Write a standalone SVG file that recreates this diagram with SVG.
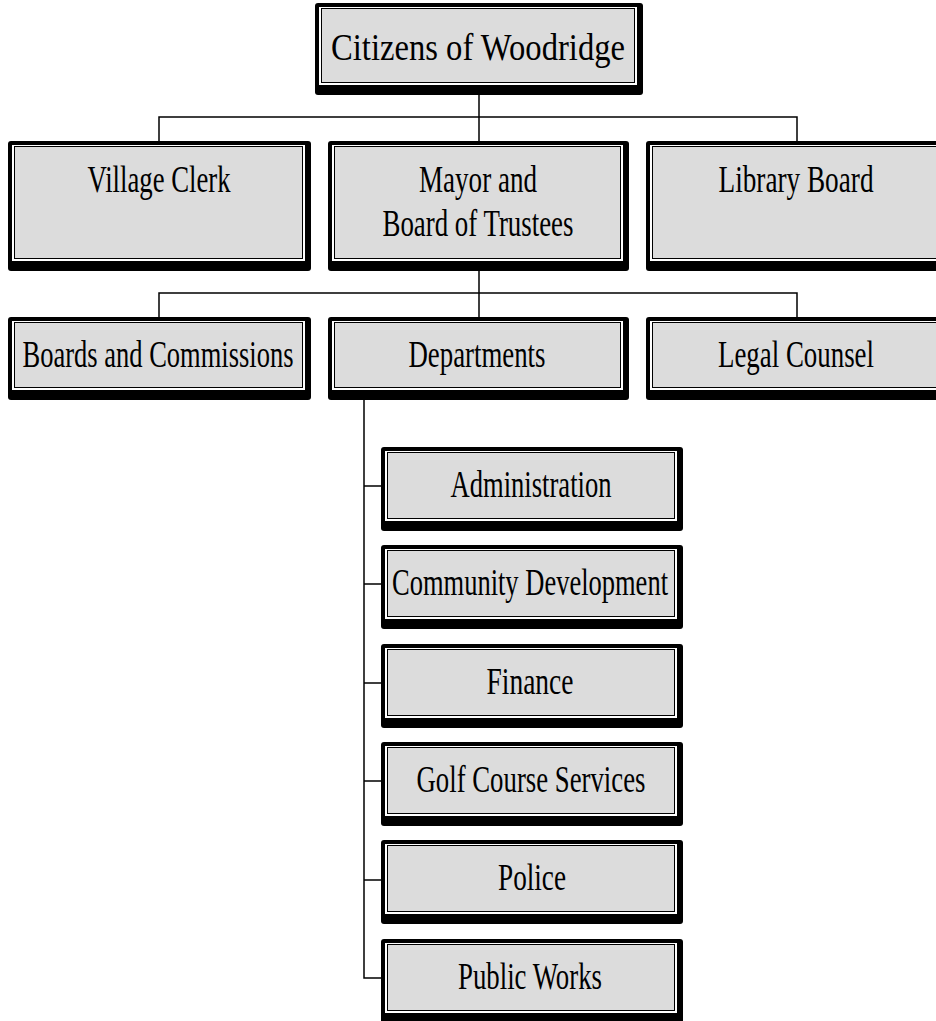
<svg xmlns="http://www.w3.org/2000/svg" width="936" height="1021" viewBox="0 0 936 1021">
<style>
.o{fill:#000}
.w{fill:#fff}
.g{fill:#dcdcdc;stroke:#000;stroke-width:1}
.t{font-family:"Liberation Serif","Times New Roman",serif;font-size:38px;fill:#000;text-anchor:middle}
.c{fill:none;stroke:#000;stroke-width:1.5}
</style>
<rect width="936" height="1021" fill="#fff"/>
<g id="connectors">
<path class="c" d="M479 95V117M159 141V117H797V141M479 117V141"/>
<path class="c" d="M479 271V293M159 317V293H797V317M479 293V317"/>
<path class="c" d="M364 400V978H381M364 486H381M364 584H381M364 683H381M364 781H381M364 880H381"/>
</g>
<g id="citizens">
<rect class="o" x="315" y="3" width="328" height="92" rx="3"/>
<rect class="w" x="319" y="7" width="318" height="78"/>
<rect class="g" x="321.5" y="8.5" width="313" height="74"/>
<text class="t" x="478" y="60" font-size="42" textLength="294" lengthAdjust="spacingAndGlyphs">Citizens of Woodridge</text>
</g>
<g id="village-clerk">
<rect class="o" x="8" y="141" width="303" height="130" rx="3"/>
<rect class="w" x="12" y="145" width="293" height="116"/>
<rect class="g" x="14.5" y="146.5" width="288" height="112"/>
<text class="t" x="159" y="192" textLength="143" lengthAdjust="spacingAndGlyphs">Village Clerk</text>
</g>
<g id="mayor">
<rect class="o" x="328" y="141" width="301" height="130" rx="3"/>
<rect class="w" x="332" y="145" width="291" height="116"/>
<rect class="g" x="334.5" y="146.5" width="286" height="112"/>
<text class="t" x="478" y="192" textLength="118" lengthAdjust="spacingAndGlyphs">Mayor and</text>
<text class="t" x="478" y="236" textLength="191" lengthAdjust="spacingAndGlyphs">Board of Trustees</text>
</g>
<g id="library-board">
<rect class="o" x="646" y="141" width="303" height="130" rx="3"/>
<rect class="w" x="650" y="145" width="293" height="116"/>
<rect class="g" x="652.5" y="146.5" width="288" height="112"/>
<text class="t" x="796" y="192" textLength="155" lengthAdjust="spacingAndGlyphs">Library Board</text>
</g>
<g id="boards-commissions">
<rect class="o" x="8" y="317" width="303" height="83" rx="3"/>
<rect class="w" x="12" y="321" width="293" height="69"/>
<rect class="g" x="14.5" y="322.5" width="288" height="65"/>
<text class="t" x="158" y="367" textLength="271" lengthAdjust="spacingAndGlyphs">Boards and Commissions</text>
</g>
<g id="departments">
<rect class="o" x="328" y="317" width="301" height="83" rx="3"/>
<rect class="w" x="332" y="321" width="291" height="69"/>
<rect class="g" x="334.5" y="322.5" width="286" height="65"/>
<text class="t" x="477" y="367" textLength="137" lengthAdjust="spacingAndGlyphs">Departments</text>
</g>
<g id="legal-counsel">
<rect class="o" x="646" y="317" width="303" height="83" rx="3"/>
<rect class="w" x="650" y="321" width="293" height="69"/>
<rect class="g" x="652.5" y="322.5" width="288" height="65"/>
<text class="t" x="796" y="367" textLength="156" lengthAdjust="spacingAndGlyphs">Legal Counsel</text>
</g>
<g id="administration">
<rect class="o" x="381" y="447" width="302" height="84" rx="3"/>
<rect class="w" x="385" y="451" width="292" height="70"/>
<rect class="g" x="387.5" y="452.5" width="287" height="66"/>
<text class="t" x="531" y="497" textLength="161" lengthAdjust="spacingAndGlyphs">Administration</text>
</g>
<g id="community-development">
<rect class="o" x="381" y="545" width="302" height="84" rx="3"/>
<rect class="w" x="385" y="549" width="292" height="70"/>
<rect class="g" x="387.5" y="550.5" width="287" height="66"/>
<text class="t" x="530" y="595" textLength="276" lengthAdjust="spacingAndGlyphs">Community Development</text>
</g>
<g id="finance">
<rect class="o" x="381" y="644" width="302" height="84" rx="3"/>
<rect class="w" x="385" y="648" width="292" height="70"/>
<rect class="g" x="387.5" y="649.5" width="287" height="66"/>
<text class="t" x="530" y="694" textLength="87" lengthAdjust="spacingAndGlyphs">Finance</text>
</g>
<g id="golf-course-services">
<rect class="o" x="381" y="742" width="302" height="84" rx="3"/>
<rect class="w" x="385" y="746" width="292" height="70"/>
<rect class="g" x="387.5" y="747.5" width="287" height="66"/>
<text class="t" x="531" y="792" textLength="229" lengthAdjust="spacingAndGlyphs">Golf Course Services</text>
</g>
<g id="police">
<rect class="o" x="381" y="840" width="302" height="84" rx="3"/>
<rect class="w" x="385" y="844" width="292" height="70"/>
<rect class="g" x="387.5" y="845.5" width="287" height="66"/>
<text class="t" x="532" y="890" textLength="68" lengthAdjust="spacingAndGlyphs">Police</text>
</g>
<g id="public-works">
<rect class="o" x="381" y="939" width="302" height="84" rx="3"/>
<rect class="w" x="385" y="943" width="292" height="70"/>
<rect class="g" x="387.5" y="944.5" width="287" height="66"/>
<text class="t" x="530" y="989" textLength="144" lengthAdjust="spacingAndGlyphs">Public Works</text>
</g>
</svg>
